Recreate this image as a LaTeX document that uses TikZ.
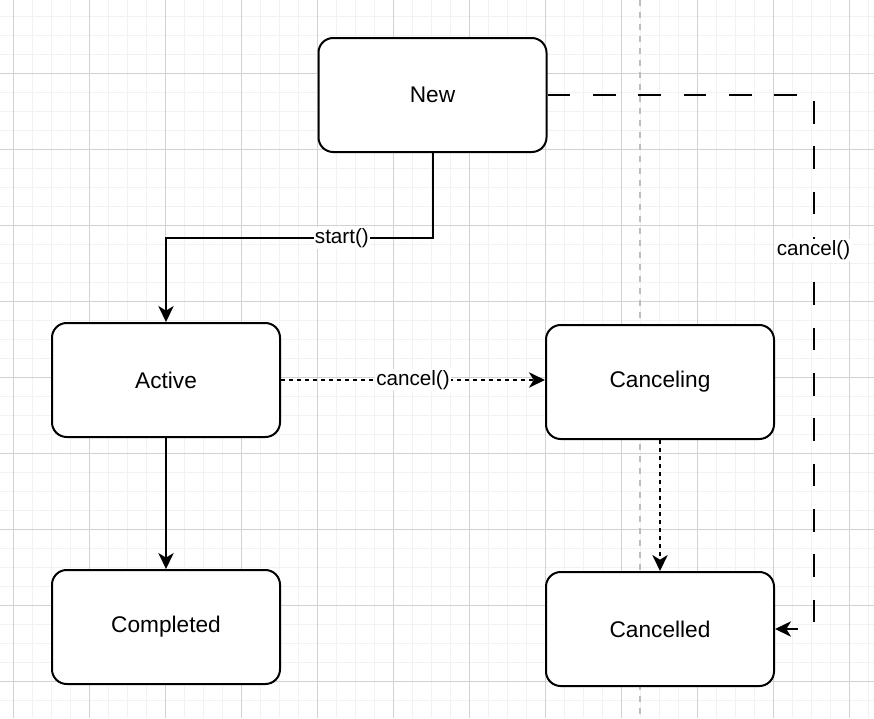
\documentclass[tikz,border=0pt]{standalone}
\usepackage{fontspec}
\setmainfont{Liberation Sans}
\usetikzlibrary{arrows.meta}
\definecolor{minorgrid}{HTML}{F2F2F2}
\definecolor{majorgrid}{HTML}{D2D2D2}
\definecolor{guidegray}{HTML}{BDBDBD}

\begin{document}
\begin{tikzpicture}[x=0.75pt,y=-0.75pt,line width=1.5pt,
  state/.style={draw,fill=white,rounded corners=11pt,minimum width=171pt,minimum height=85.5pt,font=\fontsize{17}{20}\selectfont},
  flow/.style={-{Stealth[length=12pt,width=11.5pt,inset=3.5pt]}},
  shortdash/.style={dash pattern=on 3pt off 3pt},
  longdash/.style={dash pattern=on 17pt off 17pt},
  lbl/.style={fill=white,inner sep=1pt,font=\fontsize{15.5}{18}\selectfont}]
\useasboundingbox (0,0) rectangle (874,718);
\fill[white] (0,0) rectangle (874,718);

% grid
\foreach \i in {0,...,45} \draw[minorgrid,line width=0.75pt] (13+19*\i,0) -- (13+19*\i,718);
\foreach \i in {0,...,38} \draw[minorgrid,line width=0.75pt] (0,-3+19*\i) -- (874,-3+19*\i);
\foreach \i in {0,...,11} \draw[majorgrid,line width=0.75pt] (13+76*\i,0) -- (13+76*\i,718);
\foreach \i in {1,...,9} \draw[majorgrid,line width=0.75pt] (0,-3+76*\i) -- (874,-3+76*\i);

% divider
\draw[guidegray,line width=1.5pt,dash pattern=on 4.5pt off 4.5pt] (640,0) -- (640,718);

% states
\node[state] (new) at (432.5,95) {New};
\node[state] (active) at (166,380) {Active};
\node[state] (canceling) at (660,382) {Canceling};
\node[state] (completed) at (166,627) {Completed};
\node[state] (cancelled) at (660,629) {Cancelled};

% transitions
\draw[flow] (new.south) -- ++(0,85) -| node[pos=0.17,lbl]{start()} (active.north); %1
\draw[flow,shortdash] (active.east) -- node[lbl]{cancel()} (active.east -| canceling.west); %2
\draw[flow] (active.south) -- (completed.north); %3
\draw[flow,shortdash] (canceling.south) -- (cancelled.north); %4
\draw[flow,longdash] (new.east) -- ++(266,0) |- node[pos=0.145,lbl]{cancel()} (cancelled.east); %5
\end{tikzpicture}
\end{document}
